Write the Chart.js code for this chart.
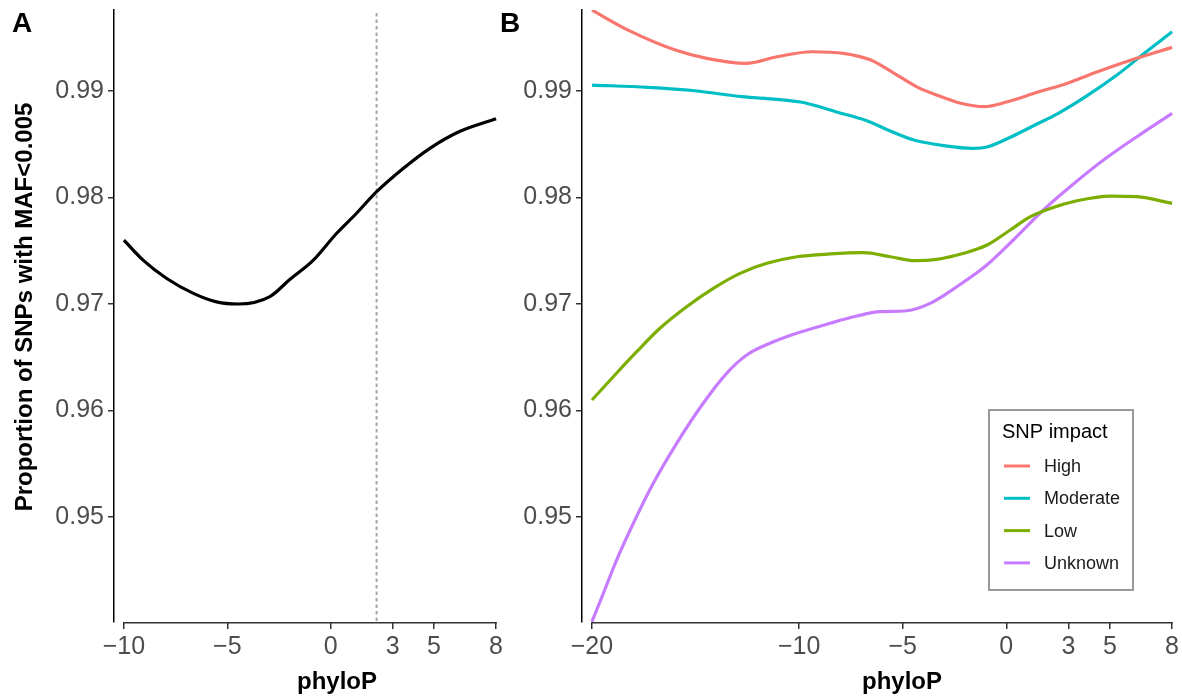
<!DOCTYPE html>
<html>
<head>
<meta charset="utf-8">
<script src="https://cdn.jsdelivr.net/npm/chart.js@4.4.1/dist/chart.umd.min.js"></script>
<style>
  html, body { margin:0; padding:0; background:#fff; }
  #wrap { position:relative; width:1182px; height:696px; overflow:hidden; background:#fff; }
  canvas { position:absolute; top:0; }
  #cA { left:0; }
  #cB { left:495px; }
</style>
</head>
<body>
<div id="wrap">
  <canvas id="cA" width="510" height="696"></canvas>
  <canvas id="cB" width="687" height="696"></canvas>
</div>
<script>
// ---------- DATA ----------
const yTicks = [0.95, 0.96, 0.97, 0.98, 0.99];
const xTicksA = [-10, -5, 0, 3, 5, 8];
const xTicksB = [-20, -10, -5, 0, 3, 5, 8];

// Panel A: all SNPs
const xA = [-10, -9.06, -7.93, -6.64, -5.52, -4.47, -2.94, -1.98, -0.85, 0.27, 1.24, 2.2, 3.49, 4.78, 6.23, 8];
const yA = [0.9760, 0.9741, 0.9724, 0.9710, 0.9702, 0.9700, 0.9707, 0.9723, 0.9741, 0.9766, 0.9785, 0.9805, 0.9827, 0.9846, 0.9862, 0.9874];
const refLineX = 2.22;

// Panel B: by SNP impact
const seriesNames = ["High", "Moderate", "Low", "Unknown"];
const xHigh = [-20, -18.23, -15.97, -14.46, -12.57, -11.07, -9.37, -7.86, -6.54, -5.41, -4.27, -3.14, -2.2, -1.08, 0.06, 1.57, 2.7, 4.4, 6.29, 8];
const yHigh = [0.9976, 0.9957, 0.99385, 0.99307, 0.9926, 0.99322, 0.99369, 0.99354, 0.99291, 0.99166, 0.99035, 0.98947, 0.98885, 0.98853, 0.989, 0.98993, 0.99056, 0.99181, 0.99307, 0.9941];
const xModerate = [-20, -17.29, -15.03, -12.76, -11.07, -9.74, -8.24, -6.73, -5.6, -4.46, -2.96, -1.64, -0.89, 0.25, 1.38, 2.51, 3.83, 5.34, 6.66, 8];
const yModerate = [0.99056, 0.99035, 0.99003, 0.98947, 0.98922, 0.9889, 0.98806, 0.98721, 0.98624, 0.9854, 0.98486, 0.98462, 0.98477, 0.98571, 0.98681, 0.98791, 0.98947, 0.9915, 0.99354, 0.99557];
const xLow = [-20, -18.97, -17.84, -16.72, -15.43, -14.14, -12.85, -11.56, -10.11, -8.51, -6.9, -5.6, -4.4, -3.35, -2.06, -0.93, 0.19, 1.16, 2.12, 3.41, 5.02, 6.31, 8];
const yLow = [0.96099, 0.96317, 0.96552, 0.96772, 0.96975, 0.97147, 0.97288, 0.97382, 0.97444, 0.9747, 0.97482, 0.97444, 0.97407, 0.9742, 0.97476, 0.97554, 0.97695, 0.9782, 0.97898, 0.9797, 0.98014, 0.98008, 0.97945];
const xUnknown = [-20, -19.45, -18.81, -18.0, -17.04, -15.91, -14.63, -13.5, -12.53, -11.41, -10.12, -8.51, -7.22, -6.1, -4.81, -3.68, -2.39, -0.94, 0.34, 1.79, 3.08, 4.69, 6.3, 8];
const yUnknown = [0.94017, 0.94283, 0.94596, 0.94941, 0.95316, 0.95692, 0.96068, 0.96349, 0.96521, 0.96631, 0.96725, 0.96819, 0.96887, 0.96928, 0.96937, 0.97006, 0.97162, 0.97366, 0.97601, 0.97883, 0.98101, 0.98352, 0.98571, 0.98791];

// ---------- STYLE ----------
const FONT = "'Liberation Sans', Arial, Helvetica, sans-serif";
const colors = ["#F8766D", "#00BFC4", "#7CAE00", "#C77CFF"];
const Y_MIN = 0.94014, Y_MAX = 0.99761;

const pts = (xs, ys) => xs.map((x, i) => ({ x: x, y: ys[i] }));
const fmtX = v => v < 0 ? '\u2212' + Math.abs(v) : String(v);

const extrasPlugin = {
  id: 'extras',
  beforeDatasetsDraw(chart, args, opts) {
    if (opts.refX == null) return;
    const ctx = chart.ctx, ca = chart.chartArea;
    const px = chart.scales.x.getPixelForValue(opts.refX);
    ctx.save();
    ctx.strokeStyle = '#a6a6a6';
    ctx.lineWidth = 2;
    ctx.setLineDash([3.5, 3]);
    ctx.beginPath();
    ctx.moveTo(px, ca.top + 3);
    ctx.lineTo(px, ca.bottom);
    ctx.stroke();
    ctx.restore();
  },
  afterDraw(chart, args, opts) {
    const ctx = chart.ctx, ca = chart.chartArea, xs = chart.scales.x;
    ctx.save();
    // capped x axis line
    const t = xs.ticks;
    const x1 = xs.getPixelForValue(t[0].value), x2 = xs.getPixelForValue(t[t.length - 1].value);
    ctx.strokeStyle = '#333';
    ctx.lineWidth = 1.5;
    ctx.beginPath();
    ctx.moveTo(x1 - 0.75, ca.bottom + 0.75);
    ctx.lineTo(x2 + 0.75, ca.bottom + 0.75);
    ctx.stroke();
    // x title
    ctx.fillStyle = '#000';
    ctx.font = "bold 24px " + FONT;
    ctx.textAlign = 'center';
    ctx.textBaseline = 'alphabetic';
    ctx.fillText('phyloP', (ca.left + ca.right) / 2 + opts.titleOffset, 689);
    // y title
    if (opts.yTitle) {
      ctx.save();
      ctx.translate(32, 307);
      ctx.rotate(-Math.PI / 2);
      ctx.textAlign = 'center';
      ctx.fillText(opts.yTitle, 0, 0);
      ctx.restore();
    }
    // panel tag
    ctx.font = "bold 28px " + FONT;
    ctx.textAlign = 'left';
    ctx.fillText(opts.tag, opts.tagX, 32);
    // legend
    if (opts.legend) {
      const L = opts.legend;
      ctx.fillStyle = '#fff';
      ctx.fillRect(L.x, L.y, L.w, L.h);
      ctx.strokeStyle = '#999';
      ctx.lineWidth = 2;
      ctx.strokeRect(L.x, L.y, L.w, L.h);
      ctx.fillStyle = '#000';
      ctx.font = "20px " + FONT;
      ctx.textBaseline = 'alphabetic';
      ctx.fillText(L.title, L.x + 13, L.y + 28);
      ctx.font = "18px " + FONT;
      ctx.textBaseline = 'middle';
      chart.data.datasets.forEach((d, i) => {
        const cy = L.y + 56 + i * 32.3;
        ctx.strokeStyle = d.borderColor;
        ctx.lineWidth = 3;
        ctx.beginPath();
        ctx.moveTo(L.x + 15, cy);
        ctx.lineTo(L.x + 41, cy);
        ctx.stroke();
        ctx.fillStyle = '#1a1a1a';
        ctx.fillText(d.label, L.x + 55, cy + 1);
      });
    }
    ctx.restore();
  }
};

function makeOptions(xMin, xMax, xTicks, yWidth, extras) {
  return {
    responsive: false,
    animation: false,
    devicePixelRatio: 1,
    layout: { padding: { top: 10, right: extras.padRight, left: 0, bottom: 0 } },
    plugins: { legend: { display: false }, tooltip: { enabled: false }, extras: extras },
    elements: { point: { radius: 0 }, line: { borderWidth: 3.2, cubicInterpolationMode: 'monotone', borderCapStyle: 'butt' } },
    scales: {
      x: {
        type: 'linear', min: xMin, max: xMax,
        afterBuildTicks: s => { s.ticks = xTicks.map(v => ({ value: v })); },
        afterFit: s => { s.height = 74; s.paddingLeft = 0; s.paddingRight = 0; },
        ticks: { callback: fmtX, color: '#4d4d4d', font: { family: FONT, size: 25 }, padding: 3, maxRotation: 0, autoSkip: false },
        grid: { drawOnChartArea: false, drawTicks: true, tickLength: 7, color: '#333', lineWidth: 1.5 },
        border: { display: false }
      },
      y: {
        type: 'linear', min: Y_MIN, max: Y_MAX,
        afterBuildTicks: s => { s.ticks = yTicks.map(v => ({ value: v })); },
        afterFit: s => { s.width = yWidth; s.paddingTop = 0; s.paddingBottom = 0; },
        ticks: { callback: v => v.toFixed(2), color: '#4d4d4d', font: { family: FONT, size: 25 }, padding: 4 },
        grid: { drawOnChartArea: false, drawTicks: true, tickLength: 6, color: '#333', lineWidth: 1.5 },
        border: { display: true, color: '#000', width: 1.5 },
        title: { display: false }
      }
    }
  };
}

Chart.register(extrasPlugin);

new Chart(document.getElementById('cA'), {
  type: 'line',
  data: { datasets: [{ label: 'All', data: pts(xA, yA), borderColor: '#000', fill: false }] },
  options: makeOptions(-10.48, 8.48, xTicksA, 114,
    { tag: 'A', tagX: 12, titleOffset: 27, refX: refLineX, legend: null, padRight: 4,
      yTitle: 'Proportion of SNPs with MAF<0.005' })
});

const bX = [xHigh, xModerate, xLow, xUnknown];
const bY = [yHigh, yModerate, yLow, yUnknown];
new Chart(document.getElementById('cB'), {
  type: 'line',
  data: {
    datasets: seriesNames.map((n, i) => ({ label: n, data: pts(bX[i], bY[i]), borderColor: colors[i], fill: false }))
  },
  options: makeOptions(-20.48, 8.48, xTicksB, 87,
    { tag: 'B', tagX: 5, titleOffset: 20, refX: null, padRight: 0, yTitle: null,
      legend: { x: 494, y: 410, w: 144, h: 180, title: 'SNP impact' } })
});
</script>
</body>
</html>
